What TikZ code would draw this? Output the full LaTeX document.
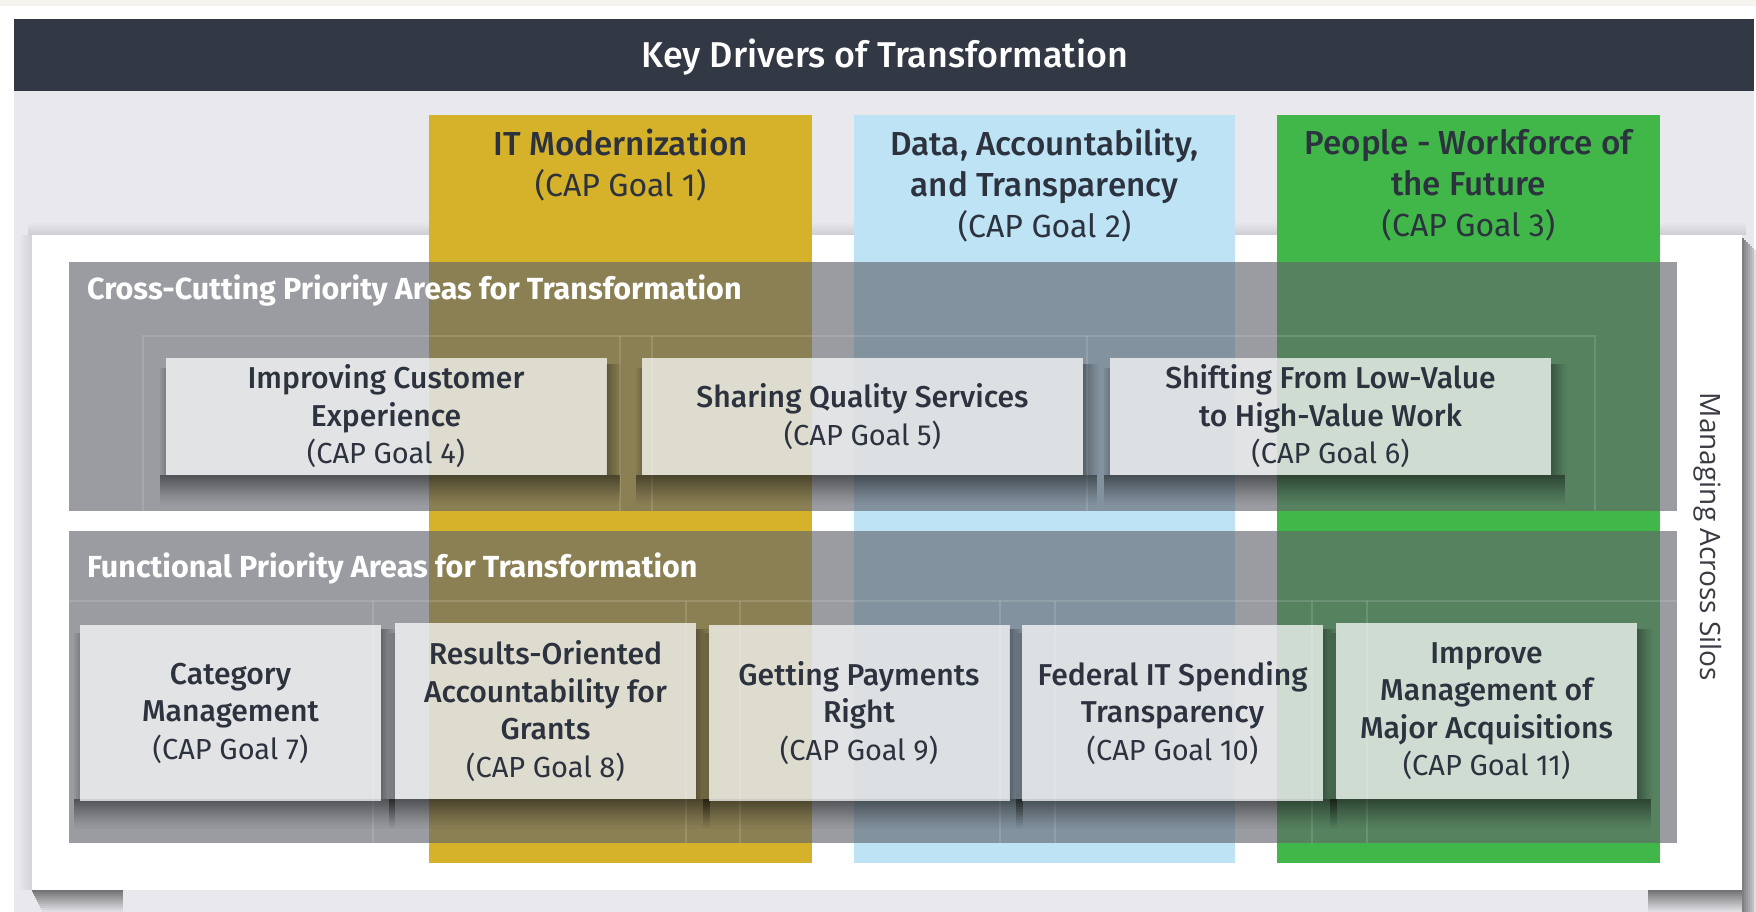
\documentclass[tikz,border=0pt]{standalone}
\usepackage{fontspec}
\setmainfont{Fira Sans}
\newfontfamily\semib{Fira Sans Medium}[Scale=1.04]
\newfontfamily\silosfont{Open Sans}
\definecolor{offw}{RGB}{244,243,238}
\definecolor{lav}{RGB}{233,232,237}
\definecolor{hdr}{RGB}{50,56,68}
\definecolor{gold}{RGB}{214,178,42}
\definecolor{lblue}{RGB}{189,227,245}
\definecolor{grn}{RGB}{65,182,73}
\definecolor{pgray}{RGB}{98,101,109}
\definecolor{tdark}{RGB}{44,50,62}
\definecolor{silos}{RGB}{58,60,68}
% soft shadow below and beside a box: x1 y1 x2 y2
\newcommand\boxshadow[4]{%
  \foreach \i in {0,...,14}{%
    \pgfmathsetmacro\shop{0.46*(1-\i/15)^1.2}
    \fill[black, fill opacity=\shop] (#1-6,#4+\i*2) rectangle (#3+14,#4+\i*2+2);
  }%
  \foreach \i in {0,...,7}{%
    \pgfmathsetmacro\shop{0.32*(1-\i/8)^1.2}
    \fill[black, fill opacity=\shop] (#3+\i*2,#2+6) rectangle (#3+\i*2+2,#4);
  }%
  \foreach \i in {0,...,2}{%
    \pgfmathsetmacro\shop{0.16*(1-\i/3)}
    \fill[black, fill opacity=\shop] (#1-\i*2-2,#2+10) rectangle (#1-\i*2,#4);
  }%
}
\begin{document}
\begin{tikzpicture}[x=1pt,y=-1pt,
  cbox/.style={fill=white, fill opacity=0.72, text opacity=1, inner sep=0pt,
    align=center, text=tdark, font=\fontsize{29}{37.5}\selectfont},
  boxA/.style={cbox, minimum width=441pt, minimum height=117pt},
  boxB/.style={cbox, minimum width=301pt, minimum height=176pt},
  coltext/.style={align=center, text=tdark, inner sep=0pt, anchor=north,
    font=\fontsize{32}{41}\selectfont},
  paneltitle/.style={anchor=west, inner sep=0pt, text=white,
    font=\bfseries\fontsize{30.5}{34}\selectfont},
  faint/.style={white, opacity=0.13, line width=1.5pt}]
\useasboundingbox (0,0) rectangle (1756,912);
% background
\fill[white] (0,0) rectangle (1756,912);
\fill[offw] (0,0) rectangle (1756,6);
\fill[lav] (14,91) rectangle (1754,912);
\fill[hdr] (14,19) rectangle (1754,91);
\node[font=\semib\fontsize{34.5}{40}\selectfont, text=white, inner sep=0pt] (title) at (885,57) {Key Drivers of Transformation};
% card shadows
\foreach \i in {0,...,5}{%
  \pgfmathsetmacro\shop{0.10*(1-\i/6)}
  \fill[black, fill opacity=\shop] (28,233-\i*2) rectangle (1746,235-\i*2);
}
\foreach \i in {0,...,5}{%
  \pgfmathsetmacro\shop{0.08*(1-\i/6)}
  \fill[black, fill opacity=\shop] (30-\i*2,235) rectangle (32-\i*2,890);
}
\foreach \i in {0,...,6}{%
  \pgfmathsetmacro\shop{0.45*(1-\i/8)}
  \fill[black, fill opacity=\shop] (1742+\i*2,238+\i*2) rectangle (1744+\i*2,912);
}
\foreach \i in {0,...,10}{%
  \pgfmathsetmacro\shop{0.50*(1-\i/11)}
  \fill[black, fill opacity=\shop] (32+\i,890+\i*2) rectangle (123,892+\i*2);
  \fill[black, fill opacity=\shop] (1648,890+\i*2) rectangle (1742,892+\i*2);
}
% card
\fill[white] (32,235) rectangle (1742,890);
% driver columns
\fill[gold] (429,115) rectangle (812,863);
\fill[lblue] (854,115) rectangle (1235,863);
\fill[grn] (1277,115) rectangle (1660,863);
\node[coltext] (c1) at (620.5,129) {{\semib IT Modernization}\\(CAP Goal 1)};
\node[coltext] (c2) at (1044.5,129) {{\semib Data, Accountability,}\\{\semib and Transparency}\\(CAP Goal 2)};
\node[coltext] (c3) at (1468.5,129) {{\semib People - Workforce of}\\{\semib the Future}\\(CAP Goal 3)};
% priority panels
\fill[pgray, fill opacity=0.64] (69,262) rectangle (1677,511);
\fill[pgray, fill opacity=0.64] (69,531) rectangle (1677,843);
\draw[faint] (143,511) -- (143,336) -- (1595,336) -- (1595,511);
\draw[faint] (620,336) -- (620,511) (652,336) -- (652,511) (1087,336) -- (1087,511);
\draw[faint] (69,601) -- (1677,601);
\foreach \lx in {373,686,740,1000,1055,1312,1367} {\draw[faint] (\lx,601) -- (\lx,843);}
\node[paneltitle] (p1) at (87,291) {Cross-Cutting Priority Areas for Transformation};
\node[paneltitle] (p2) at (87,569) {Functional Priority Areas for Transformation};
% box shadows
\boxshadow{166}{358}{606}{475}
\boxshadow{642}{358}{1083}{475}
\boxshadow{1110}{358}{1551}{475}
\boxshadow{80}{623}{381}{799}
\boxshadow{395}{623}{696}{799}
\boxshadow{709}{623}{1009}{799}
\boxshadow{1022}{623}{1323}{799}
\boxshadow{1336}{623}{1637}{799}
% boxes
\node[boxA] (b4) at (386,416.5) {{\semib Improving Customer}\\{\semib Experience}\\(CAP Goal 4)};
\node[boxA] (b5) at (862.5,416.5) {{\semib Sharing Quality Services}\\(CAP Goal 5)};
\node[boxA] (b6) at (1330.5,416.5) {{\semib Shifting From Low-Value}\\{\semib to High-Value Work}\\(CAP Goal 6)};
\node[boxB] (b7) at (230.5,713) {{\semib Category}\\{\semib Management}\\(CAP Goal 7)};
\node[boxB] (b8) at (545.5,711) {{\semib Results-Oriented}\\{\semib Accountability for}\\{\semib Grants}\\(CAP Goal 8)};
\node[boxB] (b9) at (859,713) {{\semib Getting Payments}\\{\semib Right}\\(CAP Goal 9)};
\node[boxB] (b10) at (1172.5,713) {{\semib Federal IT Spending}\\{\semib Transparency}\\(CAP Goal 10)};
\node[boxB] (b11) at (1486.5,711) {{\semib Improve}\\{\semib Management of}\\{\semib Major Acquisitions}\\(CAP Goal 11)};
% side label
\node[rotate=-90, inner sep=0pt, text=silos, font=\silosfont\fontsize{28}{32}\selectfont] (silo) at (1708,537) {Managing Across Silos};
\end{tikzpicture}
\end{document}
